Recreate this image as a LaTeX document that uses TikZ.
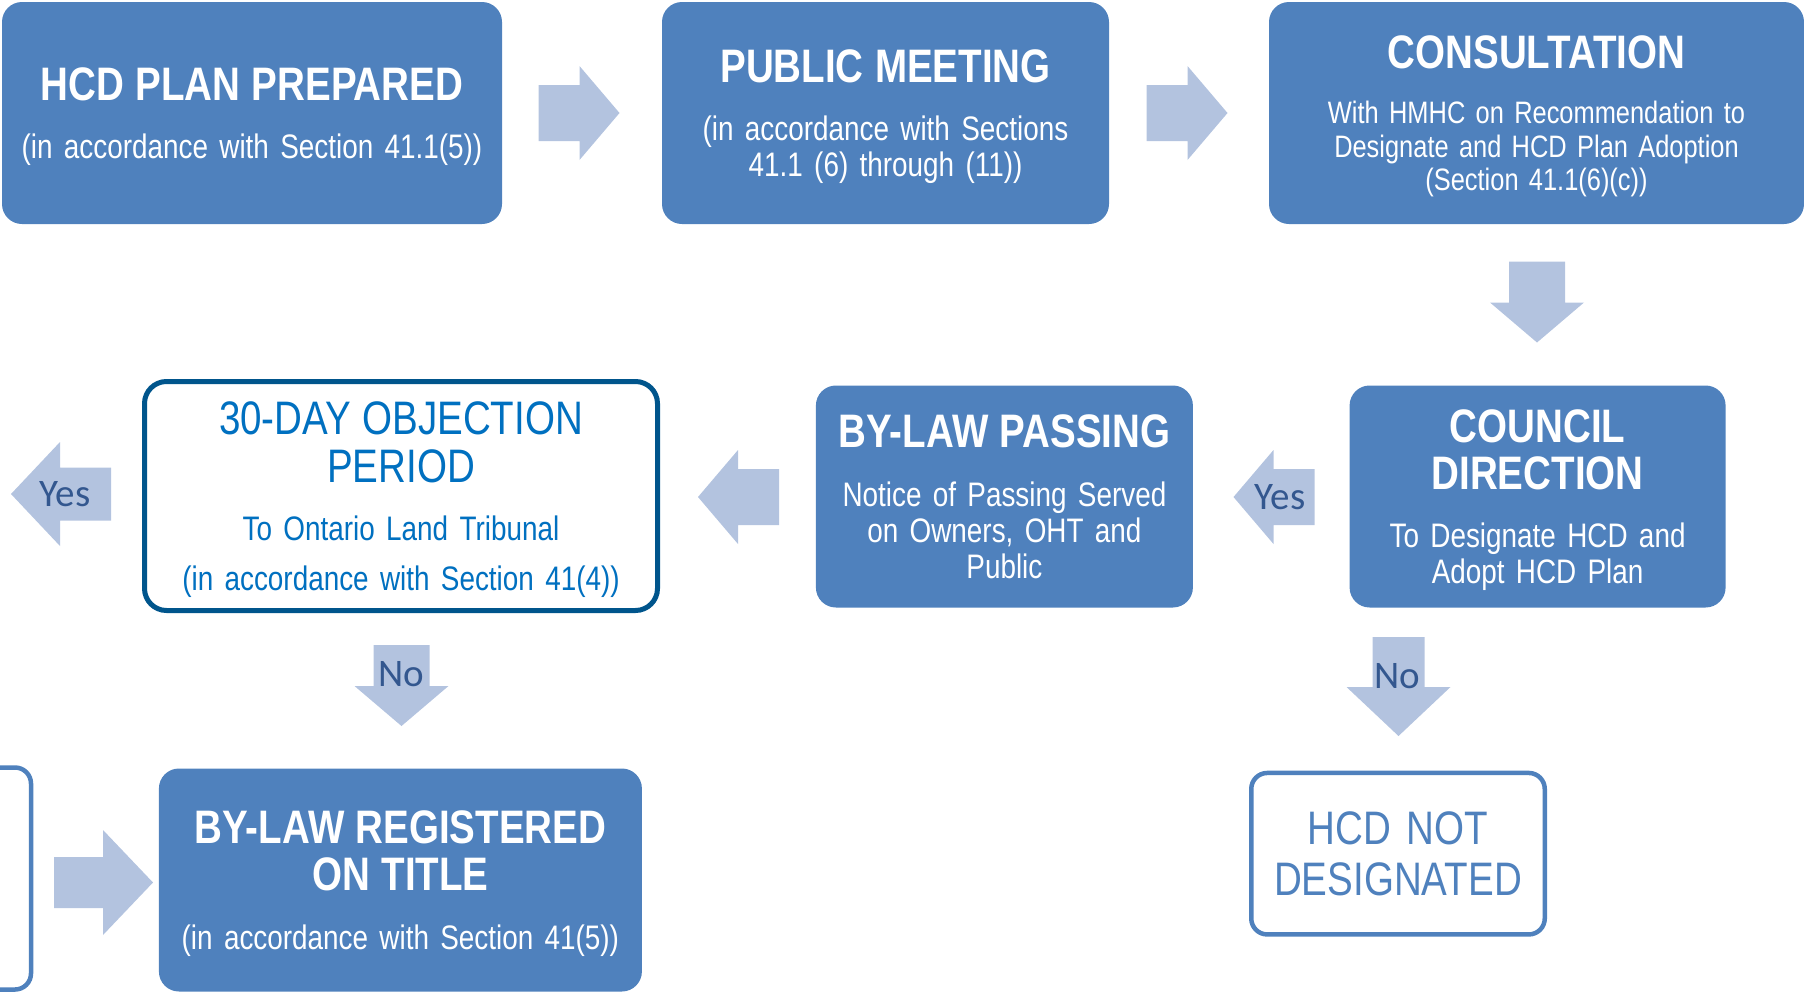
\documentclass[tikz,border=0pt]{standalone}
\usepackage{fontspec}
\setmainfont{Liberation Sans}[FakeStretch=0.82]
\newfontfamily\answerfont{Carlito}
\usepackage{tikz}

\definecolor{stageblue}{HTML}{4F81BD}
\definecolor{arrowblue}{HTML}{B3C3DF}
\definecolor{answerblue}{HTML}{33578F}
\definecolor{objline}{HTML}{00558C}
\definecolor{objtext}{HTML}{0070C0}
\newcommand{\boxtitle}{\fontsize{47}{47.5}\selectfont\bfseries}
\newcommand{\plaintitle}{\fontsize{47}{47.5}\selectfont}
\newcommand{\boxtext}{\fontsize{34}{36}\selectfont}
\newcommand{\smalltext}{\fontsize{31}{33.5}\selectfont}

\begin{document}
\begin{tikzpicture}[x=1pt, y=-1pt]
\tikzstyle{stage}=[rectangle, rounded corners=20pt, fill=stageblue, text=white, inner sep=0pt, align=center, font=\boxtext]
\tikzstyle{objection}=[rectangle, rounded corners=22pt, draw=objline, line width=5pt, fill=white, text=objtext, inner sep=0pt, align=center, font=\boxtext]
\tikzstyle{outcome}=[rectangle, rounded corners=16pt, draw=stageblue, line width=4.5pt, fill=white, text=stageblue, inner sep=0pt, align=center, font=\plaintitle]
\tikzstyle{answer}=[inner sep=0pt, text=answerblue, font=\answerfont\fontsize{39}{40}\selectfont]
\tikzset{pics/flow/.style args={#1/#2/#3/#4}{code={
  \fill[arrowblue] (-#1/2,-#4) -- (#1/2-#2,-#4) -- (#1/2-#2,-#3) -- (#1/2,0)
    -- (#1/2-#2,#3) -- (#1/2-#2,#4) -- (-#1/2,#4) -- cycle;}}}

\useasboundingbox (0,0) rectangle (1804,996);
\begin{scope}
\clip (0,0) rectangle (1804,996);

% top row
\node[stage, text width=500pt, minimum height=222pt, text height=40pt](prep) at (252,113) {{\boxtitle HCD PLAN PREPARED}\\[22pt](in accordance with Section 41.1(5))};
\node[stage, text width=447pt, minimum height=222pt, text height=40pt](meeting) at (885.5,113) {{\boxtitle PUBLIC MEETING}\\[22pt](in accordance with Sections\\41.1 (6) through (11))};
\node[stage, text width=535pt, minimum height=222pt, text height=40pt, font=\smalltext](consult) at (1536.5,113) {{\boxtitle CONSULTATION}\\[21.5pt]With HMHC on Recommendation to\\Designate and HCD Plan Adoption\\(Section 41.1(6)(c))};

\pic (a1) at (579,113) {flow=81/40/47/28};
\pic (a2) at (1187,113) {flow=81/40/47/28};
\pic[rotate=-90] (a3) at (1537,302) {flow=81/40/47/28};

% middle row
\node[stage, text width=376pt, minimum height=222pt, text height=40pt](council) at (1537.6,496.5) {{\boxtitle COUNCIL\\[11.5pt]DIRECTION}\\[22pt]To Designate HCD and\\Adopt HCD Plan};
\node[stage, text width=377pt, minimum height=222pt](passing) at (1004.4,496.5) {{\boxtitle BY-LAW PASSING}\\[23pt]Notice of Passing Served\\on Owners, OHT and\\Public};
\node[objection, text width=513pt, minimum height=229pt, text height=40pt](objection) at (401,496) {{\plaintitle 30-DAY OBJECTION\\[12pt]PERIOD}\\[22pt]To Ontario Land Tribunal\\[13.5pt](in accordance with Section 41(4))};

\pic[rotate=180] (a4) at (1274,497) {flow=81/40/47/28};
\pic[rotate=180] (a5) at (738.5,497) {flow=81/40/47/28};
\pic[rotate=180] (a6) at (61,494) {flow=100/49/52/26.5};
\node[answer](yes1) at (1280,497) {Yes};
\node[answer](yes2) at (65,494) {Yes};

% bottom row
\pic[rotate=-90] (a7) at (401.5,685.5) {flow=81/40/47/28};
\pic[rotate=-90] (a8) at (1398.5,686.5) {flow=99/49/52/26};
\node[answer](no1) at (401,674.5) {No};
\node[answer](no2) at (1397.5,676) {No};

\node[outcome, text width=362pt, minimum height=222pt](lastbox) at (-150,878.5) {};
\pic (a9) at (103.5,882.5) {flow=99/50/52.5/25.5};
\node[stage, text width=483pt, minimum height=223pt, text height=40pt](registered) at (400.4,880) {{\boxtitle BY-LAW REGISTERED\\[11.5pt]ON TITLE}\\[23pt](in accordance with Section 41(5))};
\node[outcome, text width=293.5pt, minimum height=161.5pt](notdesig) at (1398,853.7) {HCD NOT\\[3pt]DESIGNATED};
\end{scope}
\end{tikzpicture}
\end{document}
